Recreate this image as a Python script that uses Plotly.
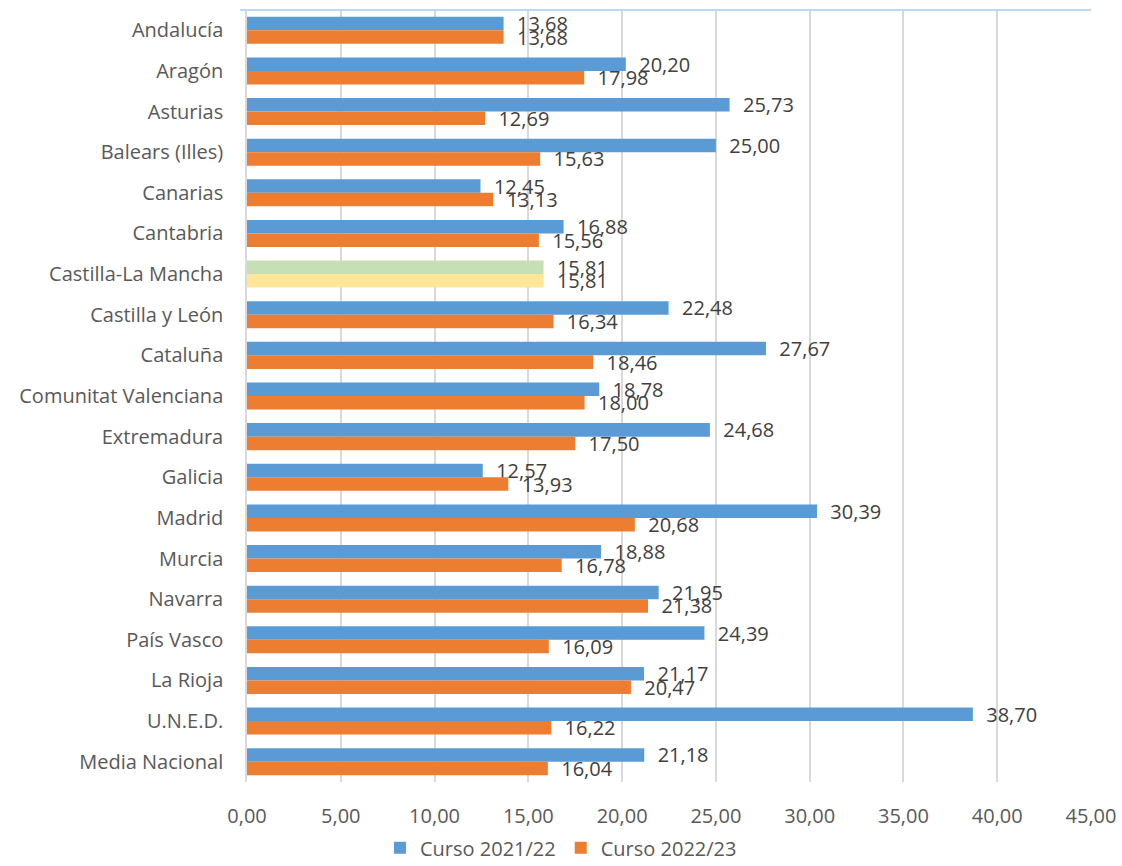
import plotly.graph_objects as go

comunidades = ["Andalucía", "Aragón", "Asturias", "Balears (Illes)", "Canarias", "Cantabria",
               "Castilla-La Mancha", "Castilla y León", "Cataluña", "Comunitat Valenciana",
               "Extremadura", "Galicia", "Madrid", "Murcia", "Navarra", "País Vasco",
               "La Rioja", "U.N.E.D.", "Media Nacional"]
curso_2122 = [13.68, 20.20, 25.73, 25.00, 12.45, 16.88, 15.81, 22.48, 27.67, 18.78,
              24.68, 12.57, 30.39, 18.88, 21.95, 24.39, 21.17, 38.70, 21.18]
curso_2223 = [13.68, 17.98, 12.69, 15.63, 13.13, 15.56, 15.81, 16.34, 18.46, 18.00,
              17.50, 13.93, 20.68, 16.78, 21.38, 16.09, 20.47, 16.22, 16.04]
destacada = "Castilla-La Mancha"

AZUL, NARANJA = "#5B9BD5", "#ED7D31"
VERDE, AMARILLO = "#C5E0B4", "#FFE699"
FUENTE = "Open Sans, Liberation Sans, sans-serif"

def fmt(v):
    # separador decimal con coma, y un pequeño hueco respecto a la barra
    return "\u00a0\u00a0" + f"{v:.2f}".replace(".", ",")

col_a = [VERDE if c == destacada else AZUL for c in comunidades]
col_b = [AMARILLO if c == destacada else NARANJA for c in comunidades]

fig = go.Figure()
fig.add_trace(go.Bar(y=comunidades, x=curso_2122, orientation="h", name="Curso 2021/22",
                     marker=dict(color=col_a, line_width=0),
                     text=[fmt(v) for v in curso_2122], textposition="outside",
                     textfont=dict(size=20, color="#404040"), cliponaxis=False))
fig.add_trace(go.Bar(y=comunidades, x=curso_2223, orientation="h", name="Curso 2022/23",
                     marker=dict(color=col_b, line_width=0),
                     text=[fmt(v) for v in curso_2223], textposition="outside",
                     textfont=dict(size=20, color="#404040"), cliponaxis=False))

# borde superior azul claro del área
fig.add_shape(type="line", xref="paper", yref="paper", x0=-0.008, x1=1.0, y0=1, y1=1,
              line=dict(color="#BDD7EE", width=2))

fig.update_layout(
    width=1122, height=866,
    barmode="group", bargap=0.335, bargroupgap=0,
    plot_bgcolor="white", paper_bgcolor="white",
    font=dict(family=FUENTE, size=20, color="#595959"),
    margin=dict(l=247, r=31, t=10, b=84, autoexpand=False),
    xaxis=dict(range=[0, 45], dtick=5, tickformat=".2f", automargin=False,
               ticklabeloverflow="allow",
               showgrid=True, gridcolor="#D9D9D9", gridwidth=1.5, zeroline=False,
               showline=False, ticklabelstandoff=20, tickfont=dict(size=20, color="#595959")),
    yaxis=dict(autorange="reversed", showgrid=False, zeroline=False, showline=True,
               automargin=False,
               linecolor="#D9D9D9", linewidth=1.5, ticklabelstandoff=18,
               tickfont=dict(size=20, color="#595959")),
    separators=",.",
    legend=dict(orientation="h", x=0.372, xanchor="center",
                yref="container", y=0.021, yanchor="middle",
                font=dict(size=20, color="#595959"), traceorder="normal"),
    showlegend=True,
)
fig.update_traces(constraintext="none")

# quitar el margen por defecto del body para que la figura ocupe toda la ventana
fig.write_html("out.html", config={"displayModeBar": False},
               post_script="document.body.style.margin='0';")
